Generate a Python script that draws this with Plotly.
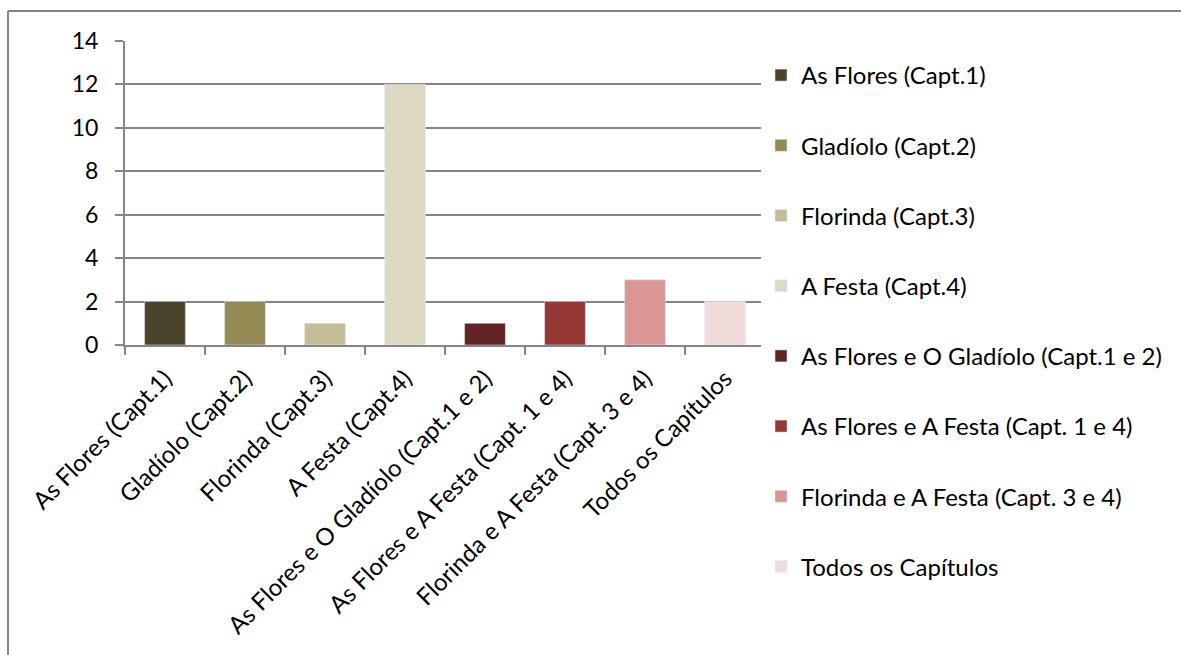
import plotly.graph_objects as go

categories = ['As Flores (Capt.1)', 'Gladíolo (Capt.2)', 'Florinda (Capt.3)', 'A Festa (Capt.4)',
              'As Flores e O Gladíolo (Capt.1 e 2)', 'As Flores e A Festa (Capt. 1 e 4)',
              'Florinda e A Festa (Capt. 3 e 4)', 'Todos os Capítulos']
values = [2, 2, 1, 12, 1, 2, 3, 2]
colors = ['#4a452a', '#948a54', '#c4bd97', '#ddd9c3', '#632523', '#953735', '#d99694', '#f2dcdb']

fig = go.Figure()
for i, (cat, val) in enumerate(zip(categories, values)):
    fig.add_trace(go.Bar(x=[cat], y=[val], name=cat, marker_color=colors[i],
                         legendgroup=str(i), width=0.51))

W, H = 1181, 655
ml, mr, mt, mb = 125, 416, 41, 310
pw, ph = W - ml - mr, H - mt - mb

font = 'Lato, Carlito, Calibri, sans-serif'
grey = '#868686'
fig.update_layout(
    width=W, height=H,
    margin=dict(l=ml, r=mr, t=mt, b=mb, autoexpand=False),
    plot_bgcolor='white', paper_bgcolor='white',
    font=dict(family=font, size=24, color='black'),
    barmode='overlay',
    showlegend=True,
    legend=dict(x=(761 - ml) / pw, xanchor='left', y=1 - (53 - mt) / ph, yanchor='top',
                tracegroupgap=36, font=dict(size=24), itemwidth=30, maxheight=640),
    xaxis=dict(categoryorder='array', categoryarray=categories, tickangle=-45,
               showline=True, linecolor=grey, linewidth=2,
               ticks='outside', tickson='boundaries', ticklen=8, tickcolor=grey,
               tickwidth=1.5, showgrid=False, tickfont=dict(size=24),
               ticklabelstandoff=8),
    yaxis=dict(range=[0, 14], dtick=2, showline=True, linecolor=grey, linewidth=2,
               ticks='outside', ticklen=8, tickcolor=grey, tickwidth=1.5,
               ticklabelstandoff=12,
               gridcolor=grey, gridwidth=1.5, zeroline=False, tickfont=dict(size=23)),
    shapes=[
        dict(type='line', xref='paper', yref='paper',
             x0=(8 - ml) / pw, x1=(W + 5 - ml) / pw,
             y0=1 + (mt - 11) / ph, y1=1 + (mt - 11) / ph,
             line=dict(color=grey, width=2)),
        dict(type='line', xref='paper', yref='paper',
             x0=(8 - ml) / pw, x1=(8 - ml) / pw,
             y0=1 + (mt - 11) / ph, y1=-(H - mt - ph + 5) / ph,
             line=dict(color=grey, width=2)),
    ],
)

fig.write_html('out.html', config={'displayModeBar': False},
               post_script="document.body.style.margin='0';")
